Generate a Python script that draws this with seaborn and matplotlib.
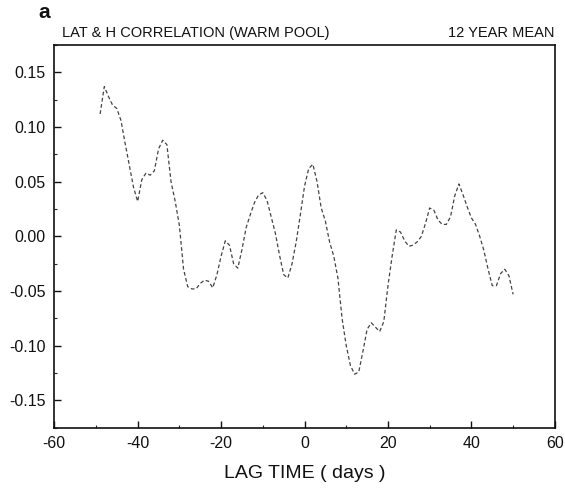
import numpy as np
import pandas as pd
import seaborn as sns
import matplotlib.pyplot as plt
from matplotlib.ticker import MultipleLocator

# lag-correlation values
lag_days = list(range(-49, 51))
correlation = [
    0.112, 0.137, 0.128, 0.120, 0.117, 0.106, 0.085, 0.065, 0.045, 0.032,
    0.052, 0.058, 0.056, 0.060, 0.080, 0.088, 0.084, 0.050, 0.032, 0.010,
    -0.030, -0.046, -0.048, -0.048, -0.043, -0.040, -0.041, -0.047, -0.035, -0.018,
    -0.004, -0.008, -0.025, -0.029, -0.012, 0.008, 0.020, 0.031, 0.038, 0.040,
    0.033, 0.018, 0.003, -0.017, -0.035, -0.038, -0.025, -0.005, 0.020, 0.046,
    0.062, 0.066, 0.050, 0.026, 0.014, -0.005, -0.018, -0.038, -0.075, -0.100,
    -0.118, -0.126, -0.124, -0.105, -0.085, -0.079, -0.083, -0.087, -0.078, -0.045,
    -0.018, 0.006, 0.004, -0.004, -0.009, -0.008, -0.005, 0.000, 0.012, 0.026,
    0.024, 0.015, 0.011, 0.011, 0.018, 0.037, 0.048, 0.038, 0.027, 0.017,
    0.011, 0.000, -0.013, -0.030, -0.045, -0.045, -0.034, -0.030, -0.036, -0.053,
]
x_ticks = [-60, -40, -20, 0, 20, 40, 60]
y_ticks = [-0.15, -0.10, -0.05, 0.00, 0.05, 0.10, 0.15]

df = pd.DataFrame({"lag": lag_days, "corr": correlation})

sns.set_style("ticks")
plt.rcParams["font.family"] = ["Liberation Sans", "DejaVu Sans"]
plt.rcParams["axes.unicode_minus"] = False

fig = plt.figure(figsize=(5.65, 4.9), dpi=100)
ax = fig.add_axes([0.096, 0.127, 0.886, 0.781])

sns.lineplot(data=df, x="lag", y="corr", ax=ax, color="#444444",
             linewidth=0.9, linestyle=(0, (3, 2)))

ax.set_xlim(-60, 60)
ax.set_ylim(-0.175, 0.175)
ax.set_xticks(x_ticks)
ax.set_yticks(y_ticks)
ax.set_yticklabels([f"{v:.2f}" for v in y_ticks])
ax.xaxis.set_minor_locator(MultipleLocator(10))
ax.yaxis.set_minor_locator(MultipleLocator(0.025))
ax.tick_params(which="major", direction="in", length=5, width=1,
               labelsize=11.5, colors="#111111", pad=6)
ax.tick_params(which="minor", direction="in", length=2.5, width=0.8)
for s in ax.spines.values():
    s.set_linewidth(1.2)
    s.set_color("#111111")

ax.set_xlabel("LAG TIME ( days )", fontsize=14, labelpad=10, color="#111111")
ax.set_ylabel("")

fig.text(0.110, 0.918, "LAT & H CORRELATION (WARM POOL)", fontsize=10.5,
         color="#111111", va="bottom")
fig.text(0.982, 0.918, "12 YEAR MEAN", fontsize=10.5, color="#111111",
         ha="right", va="bottom")
fig.text(0.068, 0.993, "a", fontsize=15, fontweight="bold", color="#111111",
         va="top")

fig.savefig("out.png", dpi=100)
